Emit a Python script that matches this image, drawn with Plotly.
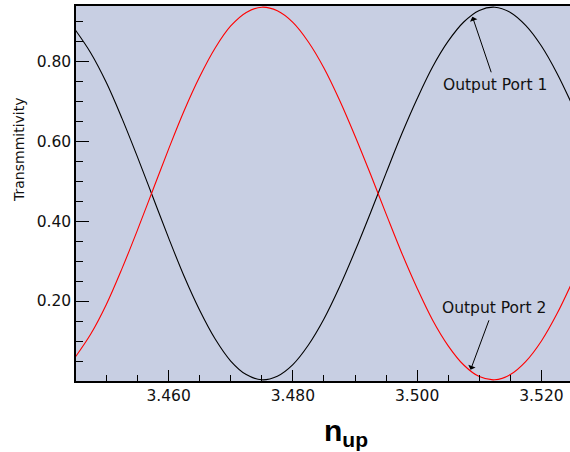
import plotly.graph_objects as go

n_up = [3.4450 + 0.0025 * i for i in range(33)]
port1 = [0.878, 0.820, 0.746, 0.657, 0.560, 0.459, 0.358, 0.262, 0.177, 0.105,
         0.050, 0.016, 0.003, 0.012, 0.041, 0.090, 0.155, 0.235, 0.325, 0.421,
         0.520, 0.617, 0.706, 0.786, 0.850, 0.898, 0.927, 0.935, 0.922, 0.889,
         0.838, 0.770, 0.689]
port2 = [0.060, 0.118, 0.192, 0.281, 0.378, 0.479, 0.580, 0.676, 0.761, 0.833,
         0.888, 0.922, 0.935, 0.926, 0.897, 0.848, 0.783, 0.703, 0.613, 0.517,
         0.418, 0.321, 0.232, 0.152, 0.088, 0.040, 0.011, 0.003, 0.016, 0.049,
         0.100, 0.168, 0.249]

x_ticks = [3.46, 3.48, 3.50, 3.52]
x_ticklabels = ["3.460", "3.480", "3.500", "3.520"]
y_ticks = [0.2, 0.4, 0.6, 0.8]
y_ticklabels = ["0.20", "0.40", "0.60", "0.80"]

W, H = 570, 452
ML, MR, MT, MB = 76, 0, 6, 71

fig = go.Figure()
fig.add_trace(go.Scatter(x=n_up, y=port1, mode="lines",
                         line=dict(color="black", width=1.1, shape="spline"),
                         name="Output Port 1", showlegend=False))
fig.add_trace(go.Scatter(x=n_up, y=port2, mode="lines",
                         line=dict(color="#ff0000", width=1.1, shape="spline"),
                         name="Output Port 2", showlegend=False))

tickfont = dict(family="DejaVu Sans, sans-serif", size=15.5, color="#111111")

fig.update_layout(
    width=W, height=H,
    margin=dict(l=ML, r=MR, t=MT, b=MB),
    paper_bgcolor="white",
    plot_bgcolor="#c8cfe3",
    xaxis=dict(
        range=[3.4451, 3.5246],
        tickvals=x_ticks, ticktext=x_ticklabels,
        ticks="inside", ticklen=11, tickwidth=1, tickcolor="black",
        minor=dict(dtick=0.005, tick0=3.46, ticks="inside", ticklen=6,
                   tickcolor="black", tickwidth=1),
        showline=True, linecolor="black", linewidth=1.5, mirror=True,
        showgrid=False, zeroline=False, tickfont=tickfont,
    ),
    yaxis=dict(
        range=[0.0, 0.938],
        tickvals=y_ticks, ticktext=y_ticklabels,
        ticks="inside", ticklen=13, tickwidth=1, tickcolor="black",
        minor=dict(dtick=0.05, tick0=0, ticks="inside", ticklen=7,
                   tickcolor="black", tickwidth=1),
        showline=True, linecolor="black", linewidth=1.5, mirror=False,
        showgrid=False, zeroline=False, tickfont=tickfont,
        ticklabelstandoff=0,
    ),
)

annfont = dict(family="DejaVu Sans, sans-serif", size=15.5, color="#111111")
fig.add_annotation(x=3.5089, y=0.911, xref="x", yref="y", text="Output Port 1",
                   showarrow=True, ax=23, ay=68, arrowhead=1, arrowsize=1.3,
                   arrowwidth=1, arrowcolor="black", standoff=0, borderpad=3,
                   font=annfont)
fig.add_annotation(x=3.5086, y=0.028, xref="x", yref="y", text="Output Port 2",
                   showarrow=True, ax=23, ay=-62, arrowhead=1, arrowsize=1.3,
                   arrowwidth=1, arrowcolor="black", standoff=0, borderpad=3,
                   font=annfont)


def px_x(p):
    return (p - ML) / (W - ML - MR)


def px_y(p):
    return (H - MB - p) / (H - MB - MT)


fig.add_annotation(x=px_x(19), y=px_y(150), xref="paper", yref="paper",
                   xanchor="center", yanchor="middle",
                   text="Transmmitivity", showarrow=False, textangle=-90,
                   font=dict(family="DejaVu Sans, sans-serif", size=14, color="#111111"))
fig.add_annotation(x=px_x(346), y=px_y(432), xref="paper", yref="paper",
                   xanchor="center", yanchor="middle",
                   text="<b>n<sub>up</sub></b>", showarrow=False,
                   font=dict(family="Liberation Sans, Arial, sans-serif", size=30, color="black"))

fig.write_html("out.html", post_script="document.body.style.margin='0';",
               config={"displayModeBar": False})
